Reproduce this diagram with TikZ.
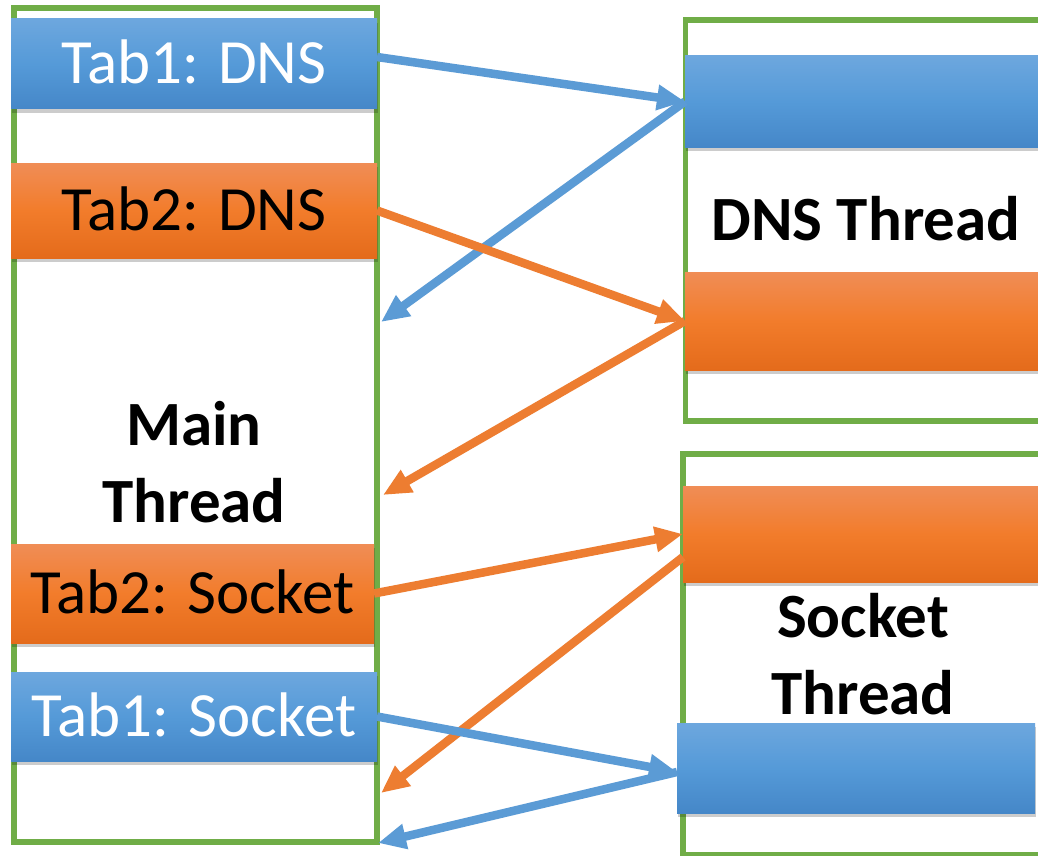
\documentclass[tikz,border=0pt]{standalone}
\usepackage{fontspec}
\setmainfont{Carlito}
\usetikzlibrary{arrows.meta,shadows}
\definecolor{gborder}{HTML}{70AD47}
\definecolor{bluetop}{HTML}{6DA7DE}
\definecolor{bluemid}{HTML}{559AD8}
\definecolor{bluebot}{HTML}{4587C8}
\definecolor{orgtop}{HTML}{F08D56}
\definecolor{orgmid}{HTML}{F27C2B}
\definecolor{orgbot}{HTML}{E46B1B}
\definecolor{barrow}{HTML}{5B9BD5}
\definecolor{oarrow}{HTML}{ED7D31}
\begin{document}
\begin{tikzpicture}[x=1pt,y=-1pt,
  thread/.style={draw=gborder, line width=5.5pt, anchor=north west, inner sep=0pt, outer sep=0pt},
  bar/.style={anchor=north west, inner sep=0pt, outer sep=0pt,
    font=\fontsize{63}{75}\selectfont, text height=40pt, text depth=0pt,
    drop shadow={shadow xshift=1pt, shadow yshift=-4pt, opacity=0.2, fill=black}},
  bluebar/.style={bar, top color=bluetop, bottom color=bluebot, middle color=bluemid, text=white},
  orangebar/.style={bar, top color=orgtop, bottom color=orgbot, middle color=orgmid, text=black},
  title/.style={font=\bfseries\fontsize{63}{77}\selectfont, anchor=base, inner sep=0pt},
  flow/.style={line width=8.5pt, -{Triangle[length=28pt,width=24pt]}},
]
\useasboundingbox (0,0) rectangle (1038,856);
\clip (0,0) rectangle (1038,856);
\fill[white] (0,0) rectangle (1038,856);

% thread containers
\node[thread, minimum width=363pt, minimum height=834pt] (main) at (14,8) {};
\node[thread, minimum width=400pt, minimum height=401pt] (dns) at (685.5,20) {};
\node[thread, minimum width=400pt, minimum height=401pt] (sock) at (683,454) {};

% bars in main thread
\node[bluebar, minimum width=366pt, minimum height=90pt] (t1d) at (11,19) {Tab1: DNS};
\node[orangebar, minimum width=366pt, minimum height=95pt] (t2d) at (11,163) {Tab2: DNS};
\node[orangebar, minimum width=363pt, minimum height=99pt] (t2s) at (11,544) {Tab2: Socket};
\node[bluebar, minimum width=366pt, minimum height=89pt] (t1s) at (11,672) {Tab1: Socket};

% bars in worker threads
\node[bluebar, minimum width=400pt, minimum height=91pt] (dnsb) at (685,56) {};
\node[orangebar, minimum width=400pt, minimum height=98pt] (dnso) at (685,272) {};
\node[orangebar, minimum width=400pt, minimum height=96pt] (socko) at (683,486) {};
\node[bluebar, minimum width=358pt, minimum height=90pt] (sockb) at (677,723) {};

% titles
\node[title] (maint) at (194,445) {\begin{tabular}[t]{@{}c@{}}Main\\Thread\end{tabular}};
\node[title] (dnst) at (866,240) {DNS Thread};
\node[title] (sockt) at (863,637) {\begin{tabular}[t]{@{}c@{}}Socket\\Thread\end{tabular}};

% return points on the main thread
\coordinate (m1) at (381,322);
\coordinate (m2) at (383,495);
\coordinate (m3) at (381,793);
\coordinate (m4) at (378,843);

% connectors
\draw[flow, barrow] ([yshift=7pt]t1d.east) -- (dnsb.west);
\draw[flow, barrow] (dnsb.west) -- (m1);
\draw[flow, oarrow] (t2d.east) -- (dnso.west);
\draw[flow, oarrow] (dnso.west) -- (m2);
\draw[flow, oarrow] (t2s.east) -- (socko.west);
\draw[flow, oarrow] ([yshift=-23pt]socko.west) -- (m3);
\draw[flow, barrow] (t1s.east) -- ([yshift=-4pt]sockb.west);
\draw[flow, barrow] ([yshift=-4pt]sockb.west) -- (m4);
\end{tikzpicture}
\end{document}
